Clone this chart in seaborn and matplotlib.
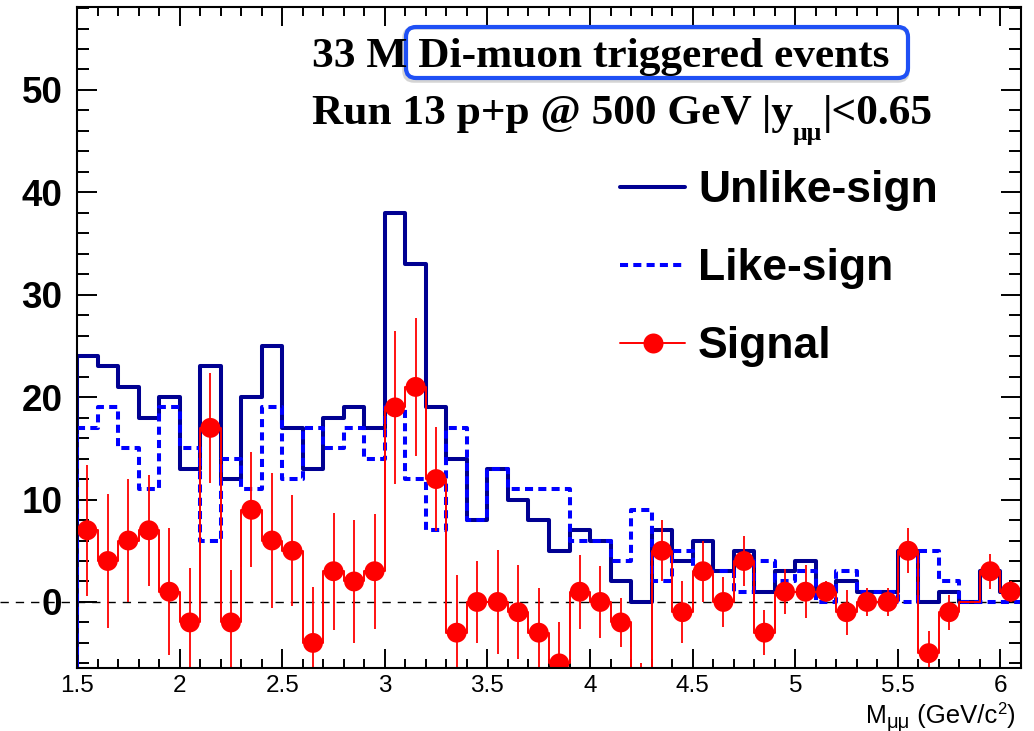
import numpy as np
import pandas as pd
import matplotlib
matplotlib.use("Agg")
import matplotlib.pyplot as plt
import seaborn as sns
from matplotlib.lines import Line2D
from matplotlib.patches import FancyBboxPatch
from matplotlib.transforms import IdentityTransform
from matplotlib.ticker import MultipleLocator, FuncFormatter

# Di-muon invariant mass, 0.1 GeV/c^2 bins from 1.5 to 6.1
bin_edges = [round(1.5 + 0.1 * i, 2) for i in range(47)]
bin_centers = [round(1.55 + 0.1 * i, 3) for i in range(46)]

unlike_sign = [24, 23, 21, 18, 20, 13, 23, 12, 20, 25, 17, 13, 18, 19, 17,
               38, 33, 19, 14, 8, 13, 10, 8, 5, 7, 6, 2, 0, 7, 4,
               6, 3, 5, 1, 3, 4, 1, 2, 1, 1, 5, 0, 1, 0, 3, 1]
like_sign = [17, 19, 15, 11, 19, 15, 6, 14, 11, 19, 12, 17, 15, 17, 14,
             19, 12, 7, 17, 8, 13, 11, 11, 11, 6, 6, 4, 9, 2, 5,
             3, 3, 1, 4, 2, 3, 0, 3, 1, 1, 0, 5, 2, 0, 0, 0]
signal = [7, 4, 6, 7, 1, -2, 17, -2, 9, 6, 5, -4, 3, 2, 3,
          19, 21, 12, -3, 0, 0, -1, -3, -6, 1, 0, -2, -9, 5, -1,
          3, 0, 4, -3, 1, 1, 1, -1, 0, 0, 5, -5, -1, 0, 3, 1]
signal_err = [6.4, 6.5, 6.0, 5.4, 6.2, 5.3, 5.4, 5.1, 5.6, 6.6, 5.4, 5.5, 5.7, 6.0, 5.6,
              7.5, 6.7, 5.1, 5.6, 4.0, 5.1, 4.6, 4.4, 4.0, 3.6, 3.5, 2.4, 3.0, 3.0, 3.0,
              3.0, 2.4, 2.4, 2.2, 2.2, 2.6, 1.0, 2.2, 1.4, 1.4, 2.2, 2.2, 1.7, 0.0, 1.7, 1.0]

legend_labels = ["Unlike-sign", "Like-sign", "Signal"]
title_line1 = "33 M Di-muon triggered events"

NAVY = "#000092"
BLUE = "#0000ff"
RED = "#ff0000"

sns.set_theme(style="ticks")
plt.rcParams["font.family"] = ["Liberation Sans", "DejaVu Sans"]
plt.rcParams["axes.edgecolor"] = "black"
plt.rcParams["xtick.color"] = "black"
plt.rcParams["ytick.color"] = "black"
plt.rcParams["text.color"] = "black"

W, H = 1034, 731
fig = plt.figure(figsize=(W / 100, H / 100), dpi=100)
fig.patch.set_facecolor("white")
ax_l, ax_r, ax_t, ax_b = 77, 1021, 7, 668
ax = fig.add_axes([ax_l / W, 1 - ax_b / H, (ax_r - ax_l) / W, (ax_b - ax_t) / H])
ax.set_facecolor("white")

x_lo, x_hi = 1.5, 6.1
y_lo, y_hi = -6.45, 58.1

dash_style = (0, (2.0, 1.3))

df = pd.DataFrame({"mass": bin_centers, "unlike": unlike_sign,
                   "like": like_sign, "signal": signal, "err": signal_err})

# zero reference line, running out through the axis labels
ax.axhline(0, xmin=-ax_l / (ax_r - ax_l), xmax=1, color="black", lw=1.0,
           ls=(0, (6, 5)), clip_on=False, zorder=1)

# unlike-sign and like-sign histograms
sns.histplot(data=df, x="mass", weights="unlike", bins=bin_edges, element="step",
             fill=False, color=NAVY, linewidth=2.9, ax=ax, zorder=3)
ax.plot([x_lo, x_lo], [y_lo, unlike_sign[0]], color=NAVY, lw=2.9, zorder=3)

sns.histplot(data=df, x="mass", weights="like", bins=bin_edges, element="step",
             fill=False, color=BLUE, linewidth=2.9, linestyle=dash_style, ax=ax, zorder=4)
ax.plot([x_lo, x_lo], [y_lo, like_sign[0]], color=BLUE, lw=2.9, ls=dash_style, zorder=4)

# signal = unlike - like, drawn as a step line with points and errors
sns.histplot(data=df, x="mass", weights="signal", bins=bin_edges, element="step",
             fill=False, color=RED, linewidth=1.4, ax=ax, zorder=5)
ax.plot([x_lo, x_lo], [y_lo, signal[0]], color=RED, lw=1.4, zorder=5)

pts = df[df["err"] > 0]
ax.errorbar(pts["mass"], pts["signal"], yerr=pts["err"], fmt="none",
            ecolor=RED, elinewidth=1.3, capsize=0, zorder=6)
sns.scatterplot(data=pts, x="mass", y="signal", color=RED, s=205,
                edgecolor="none", linewidth=0, ax=ax, zorder=7, legend=False)

ax.set_xlim(x_lo, x_hi)
ax.set_ylim(y_lo, y_hi)
ax.set_xlabel("")
ax.set_ylabel("")

# ROOT-like axes: inward ticks on all four sides
ax.xaxis.set_major_locator(MultipleLocator(0.5))
ax.xaxis.set_minor_locator(MultipleLocator(0.1))
ax.yaxis.set_major_locator(MultipleLocator(10))
ax.yaxis.set_minor_locator(MultipleLocator(2))
ax.xaxis.set_major_formatter(FuncFormatter(lambda v, _: f"{v:g}"))
ax.tick_params(which="both", direction="in", top=True, right=True, width=1.4)
ax.tick_params(axis="y", which="major", length=14.5, labelsize=26.5, pad=10.5)
ax.tick_params(axis="y", which="minor", length=8.6)
ax.tick_params(axis="x", which="major", length=13.5, labelsize=17.5, pad=5)
ax.tick_params(axis="x", which="minor", length=6.5)
for lab in ax.get_yticklabels():
    lab.set_fontweight("bold")
for sp in ax.spines.values():
    sp.set_visible(True)
    sp.set_linewidth(1.5)
    sp.set_color("black")
    sp.set_zorder(10)

# legend
handles = [
    Line2D([], [], color=NAVY, lw=2.9),
    Line2D([], [], color=BLUE, lw=2.9, ls=dash_style),
    Line2D([], [], color=RED, lw=1.4, marker="o", markersize=14.4, markeredgewidth=0),
]
leg = ax.legend(handles, legend_labels, loc="upper left",
                bbox_to_anchor=(607 / W, 1 - 157 / H), bbox_transform=fig.transFigure,
                prop={"weight": "bold", "size": 32}, frameon=True, fancybox=False,
                facecolor="white", edgecolor="none", framealpha=1.0,
                handlelength=1.45, handletextpad=0.3, labelspacing=0.83,
                borderpad=0.3, borderaxespad=0, numpoints=1)
leg.set_zorder(8)

renderer = fig.canvas.get_renderer()


def draw_runs(x_px, base_px, runs, family, weight):
    """Place consecutive text runs on one baseline (pixels from top-left)."""
    x = x_px
    for text, size, dy in runs:
        t = fig.text(x / W, 1 - (base_px + dy) / H, text, fontsize=size,
                     family=family, weight=weight, ha="left", va="baseline", zorder=20)
        x += t.get_window_extent(renderer=renderer).width
    return x


serif = ["Liberation Serif", "DejaVu Serif"]
draw_runs(312, 66.5, [(title_line1, 31.2, 0)], serif, "bold")
draw_runs(312, 124, [("Run 13 p+p @ 500 GeV |y", 31.2, 0), ("\u03bc\u03bc", 18.5, 16),
                     ("|<0.65", 31.2, 0)], serif, "bold")

# highlight box around part of the first line
shadow = FancyBboxPatch((404, H - 81), 504, 53, boxstyle="round,pad=0,rounding_size=10",
                        transform=IdentityTransform(), fill=False, edgecolor="#b8b8b8",
                        lw=2.5, alpha=0.6, zorder=18)
box = FancyBboxPatch((406, H - 78), 502, 51, boxstyle="round,pad=0,rounding_size=10",
                     transform=IdentityTransform(), fill=False, edgecolor="#1f50f5",
                     lw=3.0, zorder=19)
fig.add_artist(shadow)
fig.add_artist(box)

# x-axis title with sub/superscripts
sans = ["Liberation Sans", "DejaVu Sans"]
draw_runs(866, 723, [("M", 18, 0), ("\u03bc\u03bc", 14.5, 5), (" (GeV/c", 18.5, 0),
                     ("2", 12, -9), (")", 18.5, 0)], sans, "normal")

fig.savefig("out.png", dpi=100, facecolor="white")
